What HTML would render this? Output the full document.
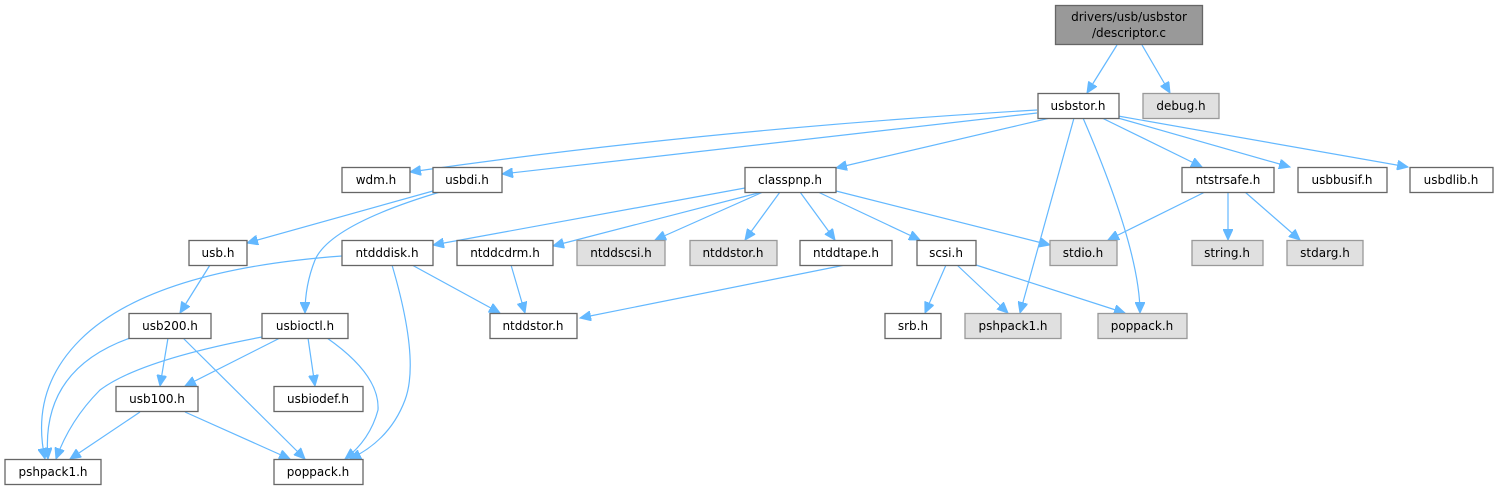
<!DOCTYPE html>
<html><head><meta charset="utf-8"><style>
html,body{margin:0;padding:0;background:#fff;}
svg{display:block}
text{font-family:"DejaVu Sans","Liberation Sans",sans-serif;font-size:12px;fill:#000;text-anchor:middle}
.n{fill:#fff;stroke:#666;stroke-width:1.3}
.g{fill:#e0e0e0;stroke:#999;stroke-width:1.3}
.e{fill:none;stroke:#63b8ff;stroke-width:1.2;marker-end:url(#a)}
</style></head><body>
<svg width="1498" height="491" viewBox="0 0 1498 491">
<defs><marker id="a" markerWidth="12" markerHeight="10" refX="11" refY="5" orient="auto" markerUnits="userSpaceOnUse"><path d="M0,0 L11,5 L0,10 z" fill="#63b8ff" stroke="#63b8ff"/></marker></defs>
<g>
<path class="e" d="M1117,45 L1087,93"/>
<path class="e" d="M1142,45 L1170,93"/>
<path class="e" d="M1037,110 Q700,130 410,172"/>
<path class="e" d="M1037,113 L502,174"/>
<path class="e" d="M1050,118 L836,168"/>
<path class="e" d="M1074,118 L1020,313"/>
<path class="e" d="M1083,118 Q1140,250 1140,313"/>
<path class="e" d="M1102,118 L1202,167"/>
<path class="e" d="M1118,118 L1290,167"/>
<path class="e" d="M1118,116 L1408,167"/>
<path class="e" d="M433,191 L247,243"/>
<path class="e" d="M440,192 Q330,225 315,260 Q305,285 305,313"/>
<path class="e" d="M745,188 L433,245"/>
<path class="e" d="M762,192 L553,246"/>
<path class="e" d="M763,192 L655,240"/>
<path class="e" d="M780,192 L745,240"/>
<path class="e" d="M800,192 L835,240"/>
<path class="e" d="M818,192 L920,240"/>
<path class="e" d="M836,191 L1050,245"/>
<path class="e" d="M1205,192 L1108,240"/>
<path class="e" d="M1228,192 L1228,240"/>
<path class="e" d="M1245,192 L1300,240"/>
<path class="e" d="M210,265 L180,313"/>
<path class="e" d="M342,256 Q150,270 80,340 Q30,390 45,459"/>
<path class="e" d="M412,265 L500,313"/>
<path class="e" d="M392,265 Q420,360 405,400 Q390,440 350,459"/>
<path class="e" d="M511,265 L525,313"/>
<path class="e" d="M845,265 L580,318"/>
<path class="e" d="M946,265 L925,313"/>
<path class="e" d="M957,265 L1008,313"/>
<path class="e" d="M976,265 L1125,313"/>
<path class="e" d="M130,338 Q40,370 48,459"/>
<path class="e" d="M168,338 L160,386"/>
<path class="e" d="M183,338 L305,459"/>
<path class="e" d="M262,337 Q140,360 100,390 Q70,420 56,459"/>
<path class="e" d="M280,338 L185,386"/>
<path class="e" d="M308,338 L315,386"/>
<path class="e" d="M327,338 Q380,375 378,410 Q370,440 345,459"/>
<path class="e" d="M140,412 L70,459"/>
<path class="e" d="M185,412 L290,459"/>
</g>
<rect x="1055.5" y="5.5" width="147" height="39" fill="#999" stroke="#666" stroke-width="1.3"/>
<text x="1129" y="21">drivers/usb/usbstor</text><text x="1129" y="37">/descriptor.c</text>
<rect class="n" x="1038" y="93.5" width="81" height="25"/><text x="1078" y="110">usbstor.h</text>
<rect class="g" x="1143" y="93.5" width="76" height="25"/><text x="1181" y="110">debug.h</text>
<rect class="n" x="342" y="167.5" width="68" height="25"/><text x="376" y="184">wdm.h</text>
<rect class="n" x="433" y="167.5" width="69" height="25"/><text x="467" y="184">usbdi.h</text>
<rect class="n" x="745" y="167.5" width="91" height="25"/><text x="790" y="184">classpnp.h</text>
<rect class="n" x="1182" y="167.5" width="92" height="25"/><text x="1228" y="184">ntstrsafe.h</text>
<rect class="n" x="1298" y="167.5" width="89" height="25"/><text x="1342" y="184">usbbusif.h</text>
<rect class="n" x="1410" y="167.5" width="83" height="25"/><text x="1451" y="184">usbdlib.h</text>
<rect class="n" x="189" y="240.5" width="58" height="25"/><text x="218" y="257">usb.h</text>
<rect class="n" x="342" y="240.5" width="91" height="25"/><text x="387" y="257">ntdddisk.h</text>
<rect class="n" x="457" y="240.5" width="96" height="25"/><text x="505" y="257">ntddcdrm.h</text>
<rect class="g" x="577" y="240.5" width="88" height="25"/><text x="621" y="257">ntddscsi.h</text>
<rect class="g" x="690" y="240.5" width="87" height="25"/><text x="733" y="257">ntddstor.h</text>
<rect class="n" x="800" y="240.5" width="92" height="25"/><text x="846" y="257">ntddtape.h</text>
<rect class="n" x="917" y="240.5" width="59" height="25"/><text x="946" y="257">scsi.h</text>
<rect class="g" x="1050" y="240.5" width="67" height="25"/><text x="1083" y="257">stdio.h</text>
<rect class="g" x="1192" y="240.5" width="71" height="25"/><text x="1227" y="257">string.h</text>
<rect class="g" x="1287" y="240.5" width="76" height="25"/><text x="1325" y="257">stdarg.h</text>
<rect class="n" x="129" y="313.5" width="82" height="25"/><text x="170" y="330">usb200.h</text>
<rect class="n" x="262" y="313.5" width="86" height="25"/><text x="305" y="330">usbioctl.h</text>
<rect class="n" x="490" y="313.5" width="87" height="25"/><text x="533" y="330">ntddstor.h</text>
<rect class="n" x="885" y="313.5" width="56" height="25"/><text x="913" y="330">srb.h</text>
<rect class="g" x="965" y="313.5" width="96" height="25"/><text x="1013" y="330">pshpack1.h</text>
<rect class="g" x="1098" y="313.5" width="89" height="25"/><text x="1142" y="330">poppack.h</text>
<rect class="n" x="116" y="386.5" width="82" height="25"/><text x="157" y="403">usb100.h</text>
<rect class="n" x="274" y="386.5" width="89" height="25"/><text x="318" y="403">usbiodef.h</text>
<rect class="n" x="5" y="459.5" width="96" height="25"/><text x="53" y="476">pshpack1.h</text>
<rect class="n" x="274" y="459.5" width="89" height="25"/><text x="318" y="476">poppack.h</text>
</svg>
</body></html>
